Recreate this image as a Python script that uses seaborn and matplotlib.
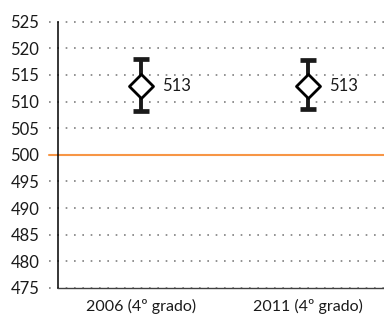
import matplotlib
matplotlib.use("Agg")
import matplotlib.pyplot as plt
import seaborn as sns
import pandas as pd

# Average score with its confidence interval for each cycle
years = ["2006 (4º grado)", "2011 (4º grado)"]
scores = [513, 513]
lower = [508.3, 508.6]
upper = [518.0, 517.8]
y_ticks = list(range(475, 530, 5))
reference_level = 500

df = pd.DataFrame({"year": years, "score": scores, "lo": lower, "hi": upper})

sns.set_theme(style="white")
plt.rcParams["font.family"] = ["Lato", "DejaVu Sans"]

fig = plt.figure(figsize=(3.84, 3.2), dpi=100)
ax = fig.add_axes([57.5 / 384, 1 - 288 / 320, 334 / 384, (288 - 21.7) / 320])

ax.set_xlim(-0.5, 1.5)
ax.set_ylim(y_ticks[0], y_ticks[-1])

# dotted horizontal guides, extended slightly to the left of the axis
trans = ax.get_yaxis_transform()
for t in y_ticks:
    if t == reference_level:
        continue
    ax.plot([-9 / 334, 1], [t, t], transform=trans, color="#7f7f7f",
            linewidth=1.2, linestyle=(0, (1, 4)), dash_capstyle="butt",
            clip_on=False, zorder=1)

# reference level
ax.plot([-9 / 334, 1], [reference_level] * 2, transform=trans,
        color="#F79646", linewidth=1.5, clip_on=False, zorder=2)

xpos = list(range(len(years)))
err_lo = [s - l for s, l in zip(scores, lower)]
err_hi = [h - s for s, h in zip(scores, upper)]
ax.errorbar(xpos, scores, yerr=[err_lo, err_hi], fmt="none", ecolor="#1a1a1a",
            elinewidth=2.8, capsize=5.5, capthick=3.4, zorder=3)

sns.scatterplot(data=df, x=xpos, y="score", marker="D", s=150,
                facecolor="white", edgecolor="black", linewidth=2.0,
                ax=ax, zorder=4, legend=False)

for x, s in zip(xpos, scores):
    ax.annotate(f"{s}", (x, s), xytext=(15, 0), textcoords="offset points",
                ha="left", va="center", fontsize=12, color="#1a1a1a")

ax.set_xticks(xpos)
ax.set_xticklabels(years)
ax.set_yticks(y_ticks)
ax.set_xlabel("")
ax.set_ylabel("")
ax.tick_params(axis="y", length=0, pad=13, labelsize=12, labelcolor="#1a1a1a")
ax.tick_params(axis="x", length=0, pad=8, labelsize=11.5, labelcolor="#1a1a1a")

for side in ["top", "right"]:
    ax.spines[side].set_visible(False)
ax.spines["left"].set_color("black")
ax.spines["left"].set_linewidth(1.1)
ax.spines["bottom"].set_color("#404040")
ax.spines["bottom"].set_linewidth(1.0)
ax.spines["left"].set_zorder(5)
ax.spines["bottom"].set_zorder(5)

fig.savefig("out.png", dpi=100)
